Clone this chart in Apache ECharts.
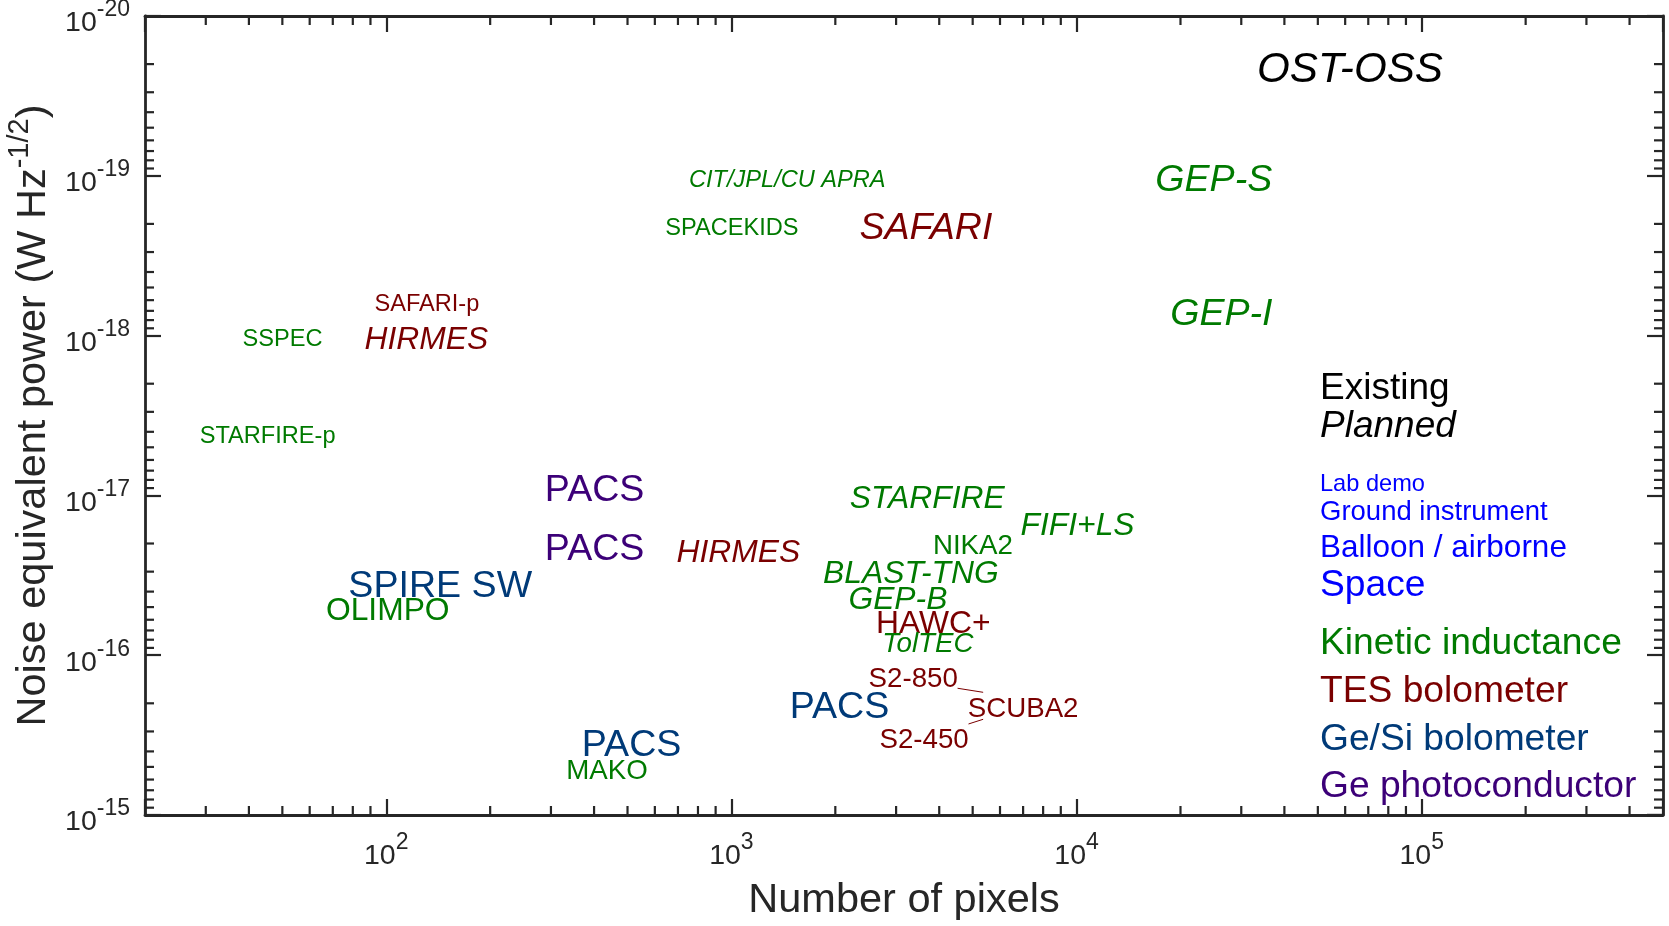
<!DOCTYPE html>
<html>
<head>
<meta charset="utf-8">
<title>NEP vs number of pixels</title>
<style>
  html, body { margin: 0; padding: 0; background: #fff; }
  #chart { width: 1669px; height: 926px; }
</style>
</head>
<body>
<div id="chart"></div>
<script src="https://cdn.jsdelivr.net/npm/echarts@6/dist/echarts.min.js"></script>
<script>
// one entry per instrument label: pixel count, NEP (W Hz^-1/2), detector type, platform, planned?
var names    = ['CIT/JPL/CU APRA', 'SPACEKIDS', 'SAFARI', 'GEP-S', 'GEP-I', 'SAFARI-p', 'SSPEC', 'HIRMES', 'STARFIRE-p',
                'PACS', 'PACS', 'HIRMES', 'STARFIRE', 'FIFI+LS', 'NIKA2', 'BLAST-TNG', 'GEP-B', 'HAWC+', 'TolTEC',
                'S2-850', 'SCUBA2', 'S2-450', 'PACS', 'SPIRE SW', 'OLIMPO', 'PACS', 'MAKO'];
var pixels   = [766, 654, 2390, 17200, 19000, 94, 39, 88, 29.3,
                293, 293, 705, 2240, 7000, 3900, 1875, 2220, 2670, 2780,
                2540, 4920, 2730, 1500, 79, 68, 375, 338];
var nep      = [1.02e-19, 2.04e-19, 2.05e-19, 1.03e-19, 7.1e-19, 6.1e-19, 1.02e-18, 1.02e-18, 4.1e-18,
                9.0e-18, 2.1e-17, 2.2e-17, 1.01e-17, 1.5e-17, 2.0e-17, 3.0e-17, 4.35e-17, 6.1e-17, 8.2e-17,
                1.35e-16, 2.1e-16, 3.25e-16, 2.05e-16, 3.55e-17, 5.05e-17, 3.54e-16, 5.1e-16];
var detector = ['KID', 'KID', 'TES', 'KID', 'KID', 'TES', 'KID', 'TES', 'KID',
                'GePC', 'GePC', 'TES', 'KID', 'KID', 'KID', 'KID', 'KID', 'TES', 'KID',
                'TES', 'TES', 'TES', 'GeSi', 'GeSi', 'KID', 'GeSi', 'KID'];
var platform = ['lab', 'lab', 'space', 'space', 'space', 'lab', 'lab', 'balloon', 'lab',
                'space', 'space', 'balloon', 'balloon', 'balloon', 'ground', 'balloon', 'balloon', 'balloon', 'ground',
                'ground', 'ground', 'ground', 'space', 'space', 'balloon', 'space', 'ground'];
var planned  = [1, 0, 1, 1, 1, 0, 0, 1, 0,
                0, 0, 1, 1, 1, 0, 1, 1, 0, 1,
                0, 0, 0, 0, 0, 0, 0, 0];

// SCUBA2 leader lines to its two arrays
var scubaLine850 = [[4520, 1.61e-16], [5362, 1.707e-16]];
var scubaLine450 = [[4863, 2.694e-16], [5362, 2.518e-16]];

// axis ranges
var xMin = 20, xMax = 5e5;
var yMin = 1e-20, yMax = 1e-15;

var FONT = '"Liberation Sans", Arial, Helvetica, sans-serif';
var AXIS_COLOR = '#262626';
var techColor = { KID: '#007a00', TES: '#7a0000', GeSi: '#003a78', GePC: '#3c0078' };
var platformSize = { lab: 23.6, ground: 27.7, balloon: 31.8, space: 37.6 };

var points = names.map(function (n, i) {
    return {
        name: n,
        value: [pixels[i], nep[i]],
        label: {
            color: techColor[detector[i]],
            fontSize: platformSize[platform[i]],
            fontStyle: planned[i] ? 'italic' : 'normal'
        }
    };
});

// only label the decades, as 10^n
function powLabel(v) {
    var l = Math.log10(v), e = Math.round(l);
    if (Math.abs(l - e) > 1e-6) return '';
    return '{b|10}{s|' + e + '}';
}

var tickRich = {
    b: { fontSize: 28.5, lineHeight: 40, fontFamily: FONT, color: AXIS_COLOR },
    s: { fontSize: 23, height: 13, verticalAlign: 'top', fontFamily: FONT, color: AXIS_COLOR }
};
var frameLine = { show: true, onZero: false, lineStyle: { color: AXIS_COLOR, width: 2.8 } };
var majorTick = { show: true, inside: true, length: 16, lineStyle: { color: AXIS_COLOR, width: 2.2 } };

var chart = echarts.init(document.getElementById('chart'));
chart.setOption({
    backgroundColor: '#fff',
    animation: false,
    grid: { left: 145, right: 6, top: 16, bottom: 111, containLabel: false, outerBoundsMode: 'none' },
    xAxis: [{
        type: 'log', logBase: 10, min: xMin, max: xMax, position: 'bottom',
        axisLine: frameLine, axisTick: majorTick, splitLine: { show: false },
        axisLabel: { formatter: powLabel, margin: 21, rich: tickRich },
        name: 'Number of pixels', nameLocation: 'middle', nameGap: 65,
        nameTextStyle: { fontSize: 41.5, lineHeight: 41.5, fontFamily: FONT, color: AXIS_COLOR }
    }, {
        type: 'log', logBase: 10, min: xMin, max: xMax, position: 'top',
        axisLine: frameLine, axisTick: majorTick, splitLine: { show: false },
        axisLabel: { show: false }
    }],
    yAxis: [{
        type: 'log', logBase: 10, min: yMin, max: yMax, inverse: true, position: 'left',
        axisLine: frameLine, axisTick: majorTick, splitLine: { show: false },
        axisLabel: { formatter: powLabel, margin: 15, padding: [15, 0, 0, 0], rich: tickRich },
        name: '{b|Noise equivalent power (W Hz}{s|-1/2}{b|)}', nameLocation: 'middle', nameGap: 87,
        nameTextStyle: {
            rich: {
                b: { fontSize: 41.5, lineHeight: 46, fontFamily: FONT, color: AXIS_COLOR },
                s: { fontSize: 29, height: 20, verticalAlign: 'top', fontFamily: FONT, color: AXIS_COLOR }
            }
        }
    }, {
        type: 'log', logBase: 10, min: yMin, max: yMax, inverse: true, position: 'right',
        axisLine: frameLine, axisTick: majorTick, splitLine: { show: false },
        axisLabel: { show: false }
    }],
    series: [{
        type: 'scatter',
        data: points,
        symbolSize: 0.1,
        itemStyle: { color: 'rgba(0,0,0,0)', opacity: 1 },
        silent: true,
        label: {
            show: true, formatter: '{b}', position: [0, 0], offset: [-2.5, 3], opacity: 1,
            align: 'left', verticalAlign: 'middle', fontFamily: FONT
        }
    }, {
        type: 'line', data: scubaLine850, symbol: 'none', silent: true,
        lineStyle: { color: techColor.TES, width: 1 }
    }, {
        type: 'line', data: scubaLine450, symbol: 'none', silent: true,
        lineStyle: { color: techColor.TES, width: 1 }
    }]
});

// key text on the right
var notes = [
    { text: 'Existing', y: 385.5, size: 37, color: '#000' },
    { text: 'Planned', y: 424, size: 37, color: '#000', italic: true },
    { text: 'Lab demo', y: 481, size: 23.6, color: '#0000ff' },
    { text: 'Ground instrument', y: 509.7, size: 27.5, color: '#0000ff' },
    { text: 'Balloon / airborne', y: 545, size: 31.5, color: '#0000ff' },
    { text: 'Space', y: 583, size: 37.2, color: '#0000ff' },
    { text: 'Kinetic inductance', y: 640.5, size: 37.2, color: techColor.KID },
    { text: 'TES bolometer', y: 688.3, size: 37.2, color: techColor.TES },
    { text: 'Ge/Si bolometer', y: 736.3, size: 37.2, color: techColor.GeSi },
    { text: 'Ge photoconductor', y: 783.3, size: 37.2, color: techColor.GePC }
];
var graphics = notes.map(function (n) {
    return {
        type: 'text', x: 1320, y: n.y + 3, silent: true,
        style: {
            text: n.text, fill: n.color,
            font: (n.italic ? 'italic ' : '') + n.size + 'px ' + FONT,
            textAlign: 'left', align: 'left', textVerticalAlign: 'middle', verticalAlign: 'middle'
        }
    };
});
graphics.push({
    type: 'text', x: 1257, y: 70, silent: true,
    style: {
        text: 'OST-OSS', fill: '#000', font: 'italic 42.2px ' + FONT,
        textAlign: 'left', align: 'left', textVerticalAlign: 'middle', verticalAlign: 'middle'
    }
});

// minor ticks (2..9 of each decade) on all four sides
var plotL = chart.convertToPixel({ xAxisIndex: 0 }, xMin);
var plotR = chart.convertToPixel({ xAxisIndex: 0 }, xMax);
var plotT = chart.convertToPixel({ yAxisIndex: 0 }, yMin);
var plotB = chart.convertToPixel({ yAxisIndex: 0 }, yMax);
var MINOR = 9;
function minorTick(x1, y1, x2, y2) {
    graphics.push({ type: 'line', silent: true, shape: { x1: x1, y1: y1, x2: x2, y2: y2 },
        style: { stroke: AXIS_COLOR, lineWidth: 2.2 } });
}
for (var d = 1; d <= 5; d++) {
    for (var m = 2; m <= 9; m++) {
        var v = m * Math.pow(10, d);
        if (v <= xMin || v >= xMax) continue;
        var px = chart.convertToPixel({ xAxisIndex: 0 }, v);
        minorTick(px, plotB, px, plotB - MINOR);
        minorTick(px, plotT, px, plotT + MINOR);
    }
}
for (var e = -20; e < -15; e++) {
    for (var k = 2; k <= 9; k++) {
        var py = chart.convertToPixel({ yAxisIndex: 0 }, k * Math.pow(10, e));
        minorTick(plotL, py, plotL + MINOR, py);
        minorTick(plotR, py, plotR - MINOR, py);
    }
}
chart.setOption({ graphic: graphics });
window.onresize = chart.resize;
</script>
</body>
</html>
